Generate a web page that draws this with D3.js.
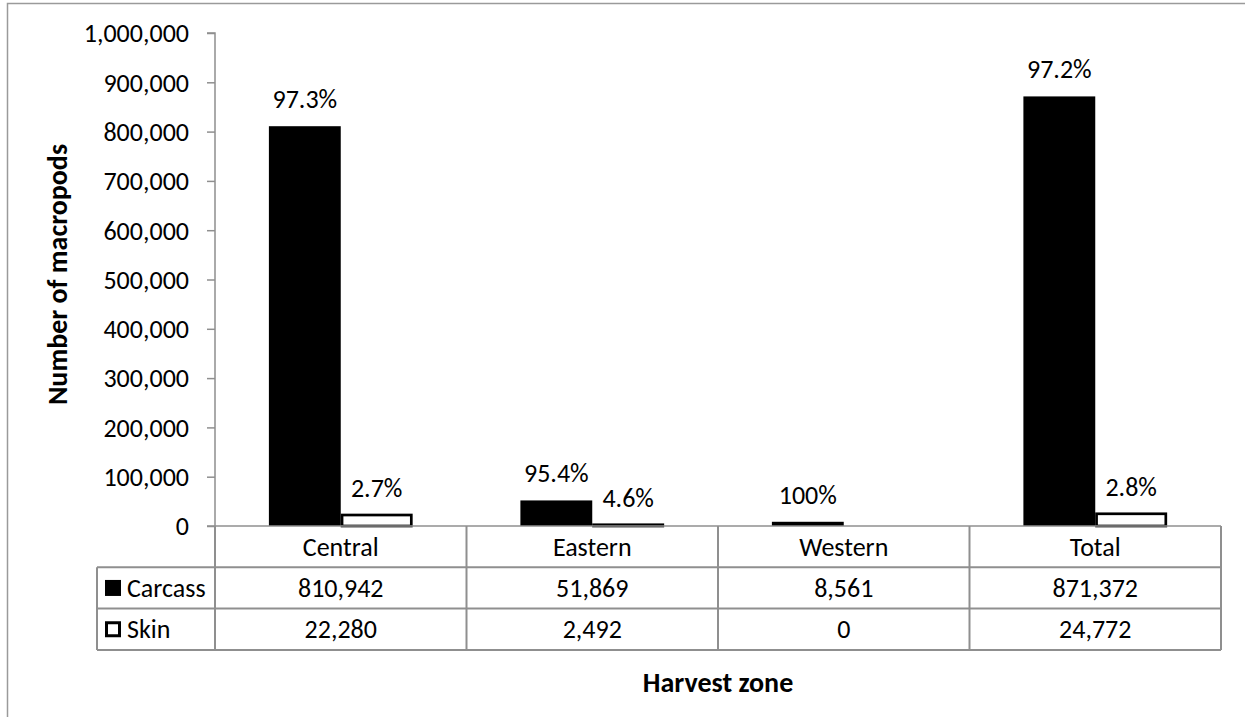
<!DOCTYPE html>
<html>
<head>
<meta charset="utf-8">
<script src="https://cdn.jsdelivr.net/npm/d3@7"></script>
<style>
  html, body { margin: 0; padding: 0; background: #fff; }
  svg { display: block; font-family: Carlito, Calibri, Lato, sans-serif; }
</style>
</head>
<body>
<svg id="chart" width="1245" height="717"></svg>
<script>
// ---- data ----
const categories = ["Central", "Eastern", "Western", "Total"];
const seriesNames = ["Carcass", "Skin"];
const carcassValues = [810942, 51869, 8561, 871372];
const skinValues = [22280, 2492, 0, 24772];
const carcassPct = ["97.3%", "95.4%", "100%", "97.2%"];
const skinPct = ["2.7%", "4.6%", "", "2.8%"];
const yTicks = [0, 100000, 200000, 300000, 400000, 500000, 600000, 700000, 800000, 900000, 1000000];
const yTitle = "Number of macropods";
const xTitle = "Harvest zone";

// ---- layout ----
const W = 1245, H = 717;
const plot = { left: 215, right: 1221, top: 33, bottom: 526 };
const rowH = 41.3;
const tableLeft = 97;
const gridColor = "#8f8f8f";
const fs = 26;
const tfs = 28;

const svg = d3.select("#chart");

// outer chart border
svg.append("rect")
  .attr("x", 7.5).attr("y", 3.5)
  .attr("width", W + 20).attr("height", H + 20)
  .attr("fill", "none").attr("stroke", "#9a9a9a").attr("stroke-width", 1.5);

const x = d3.scaleBand().domain(categories).range([plot.left, plot.right]).paddingInner(0).paddingOuter(0);
const xs = d3.scaleBand().domain(seriesNames).range([0, x.bandwidth()]).paddingInner(0).paddingOuter(0.75);
const y = d3.scaleLinear().domain([0, 1000000]).range([plot.bottom, plot.top]);

const fmt = d3.format(",");

// y axis
const yAxis = d3.axisLeft(y).tickValues(yTicks).tickFormat(fmt).tickSize(8).tickPadding(18);
const gy = svg.append("g").attr("transform", `translate(${plot.left},0)`).call(yAxis);
gy.select(".domain").attr("stroke", gridColor).attr("stroke-width", 1.5).attr("d", `M-8,${plot.top}H0V${plot.bottom}`);
gy.selectAll(".tick line").attr("stroke", gridColor).attr("stroke-width", 1.5);
gy.selectAll(".tick text").attr("font-size", fs).attr("fill", "#000").attr("font-family", "Carlito, Calibri, Lato, sans-serif").attr("dy", "0.34em");

// bars
const data = categories.map((c, i) => ({ cat: c, vals: [
  { s: "Carcass", v: carcassValues[i], pct: carcassPct[i] },
  { s: "Skin", v: skinValues[i], pct: skinPct[i] }
]}));

const groups = svg.append("g").selectAll("g").data(data).join("g")
  .attr("transform", d => `translate(${x(d.cat)},0)`);

groups.selectAll("rect.carcass").data(d => d.vals.filter(v => v.s === "Carcass")).join("rect")
  .attr("class", "carcass")
  .attr("x", d => xs(d.s)).attr("width", xs.bandwidth())
  .attr("y", d => y(d.v)).attr("height", d => y(0) - y(d.v))
  .attr("fill", "#000");

groups.selectAll("rect.skin").data(d => d.vals.filter(v => v.s === "Skin" && v.v > 0)).join("rect")
  .attr("class", "skin")
  .attr("x", d => xs(d.s) + 1.3).attr("width", xs.bandwidth() - 2.6)
  .attr("y", d => y(d.v)).attr("height", d => Math.max(0, y(0) - y(d.v)))
  .attr("fill", "#fff").attr("stroke", "#000").attr("stroke-width", 2.7);

// percent labels
groups.selectAll("text.pct").data(d => d.vals.filter(v => v.pct !== "")).join("text")
  .attr("class", "pct")
  .attr("x", d => xs(d.s) + xs.bandwidth() / 2)
  .attr("y", d => y(d.v) - 18)
  .attr("text-anchor", "middle")
  .attr("font-size", fs)
  .attr("fill", "#000")
  .text(d => d.pct);

// category axis line (drawn after bars)
svg.append("line")
  .attr("x1", plot.left - 8).attr("x2", plot.right)
  .attr("y1", plot.bottom).attr("y2", plot.bottom)
  .attr("stroke", gridColor).attr("stroke-width", 1.5);

// ---- data table ----
const tbl = svg.append("g");
const rowsY = [plot.bottom, plot.bottom + rowH, plot.bottom + 2 * rowH, plot.bottom + 3 * rowH];
const lineAttr = sel => sel.attr("stroke", gridColor).attr("stroke-width", 2).attr("fill", "none");

tbl.append("line").attr("x1", tableLeft).attr("x2", plot.right).attr("y1", rowsY[1]).attr("y2", rowsY[1]).call(lineAttr);
tbl.append("line").attr("x1", tableLeft).attr("x2", plot.right).attr("y1", rowsY[2]).attr("y2", rowsY[2]).call(lineAttr);
tbl.append("line").attr("x1", tableLeft).attr("x2", plot.right).attr("y1", rowsY[3]).attr("y2", rowsY[3]).call(lineAttr);
const vx = categories.map(c => x(c)).concat([x(categories[categories.length - 1]) + x.bandwidth()]);
tbl.selectAll("line.v").data(vx).join("line").attr("class", "v")
  .attr("x1", d => d).attr("x2", d => d).attr("y1", plot.bottom).attr("y2", rowsY[3]).call(lineAttr);
tbl.append("line").attr("x1", tableLeft).attr("x2", tableLeft).attr("y1", rowsY[1]).attr("y2", rowsY[3]).call(lineAttr);

const vOff = 9;
tbl.selectAll("text.cat").data(categories).join("text").attr("class", "cat")
  .attr("x", d => x(d) + x.bandwidth() / 2)
  .attr("y", (rowsY[0] + rowsY[1]) / 2 + vOff)
  .attr("text-anchor", "middle").attr("font-size", fs).text(d => d);

const rowsData = [carcassValues, skinValues];
rowsData.forEach((vals, r) => {
  tbl.selectAll(`text.val${r}`).data(vals).join("text").attr("class", `val${r}`)
    .attr("x", (d, i) => x(categories[i]) + x.bandwidth() / 2)
    .attr("y", (rowsY[r + 1] + rowsY[r + 2]) / 2 + vOff)
    .attr("text-anchor", "middle").attr("font-size", fs).text(d => fmt(d));
});

seriesNames.forEach((s, r) => {
  const cy = (rowsY[r + 1] + rowsY[r + 2]) / 2;
  if (s === "Carcass") {
    tbl.append("rect").attr("x", 105).attr("y", cy - 8).attr("width", 16).attr("height", 16).attr("fill", "#000");
  } else {
    tbl.append("rect").attr("x", 106.5).attr("y", cy - 6.5).attr("width", 13).attr("height", 13)
      .attr("fill", "#fff").attr("stroke", "#000").attr("stroke-width", 3);
  }
  tbl.append("text").attr("x", 127).attr("y", cy + vOff).attr("font-size", fs).text(s);
});

// axis titles
svg.append("text")
  .attr("transform", `translate(67,${(plot.top + plot.bottom) / 2 - 5}) rotate(-90)`)
  .attr("text-anchor", "middle").attr("font-size", tfs).attr("font-weight", "bold").text(yTitle);
svg.append("text")
  .attr("x", (plot.left + plot.right) / 2).attr("y", 692)
  .attr("text-anchor", "middle").attr("font-size", tfs).attr("font-weight", "bold").text(xTitle);
</script>
</body>
</html>
